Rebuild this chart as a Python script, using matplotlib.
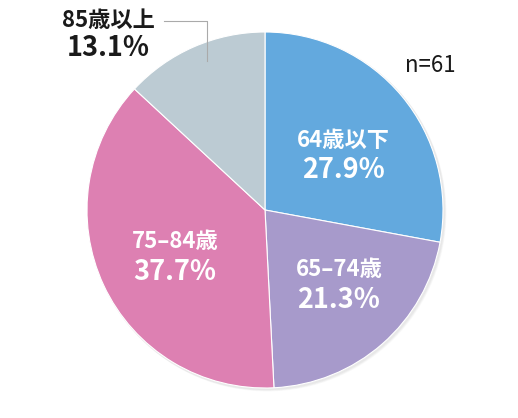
import matplotlib
matplotlib.use("Agg")
import matplotlib.pyplot as plt
from matplotlib.patches import Circle

plt.rcParams['font.family'] = ['Noto Sans CJK JP', 'DejaVu Sans']

# データ
labels = ["64歳以下", "65‒74歳", "75‒84歳", "85歳以上"]
values = [27.9, 21.3, 37.7, 13.1]
colors = ["#63a9de", "#a79acb", "#dd80b2", "#bccbd3"]
n_text = "n=61"

W, H = 518, 418
fig = plt.figure(figsize=(W / 100, H / 100), dpi=100)
ax = fig.add_axes([0, 0, 1, 1])

def py(y):
    # ピクセル座標(上から) -> データ座標
    return H - y

cx, cy, r = 265, py(210), 178

# うっすら影
for k, a in [(4, 0.05), (3, 0.06), (2, 0.08)]:
    ax.add_patch(Circle((cx + k * 0.6, cy - k * 0.6), r + 1, color="#888888",
                        alpha=a, lw=0, zorder=0))

ax.pie(values, colors=colors, startangle=90, counterclock=False,
       center=(cx, cy), radius=r, frame=True,
       wedgeprops=dict(edgecolor="white", linewidth=0.8))
ax.set_xlim(0, W)
ax.set_ylim(0, H)
ax.set_aspect("equal")
ax.axis("off")

# ラベル位置 (ピクセル)
pos = [(343, 140), (339, 270), (175, 242)]
for (x, y), lab, v in zip(pos, labels[:3], values[:3]):
    ax.text(x, py(y), lab, color="white", fontsize=16, fontweight="bold",
            ha="center", va="center")
    ax.text(x, py(y + 30), f"{v:.1f}%", color="white", fontsize=19.5,
            fontweight="bold", ha="center", va="center")

# 85歳以上 (外側ラベル)
ax.text(108, py(20), labels[3], color="#1a1a1a", fontsize=16, fontweight="bold",
        ha="center", va="center")
ax.text(108, py(48), f"{values[3]:.1f}%", color="#1a1a1a", fontsize=19.5,
        fontweight="bold", ha="center", va="center")
ax.plot([164, 207, 207], [py(21), py(21), py(61)], color="#aaaaaa", lw=0.8)

ax.text(430, py(65), n_text, color="#1a1a1a", fontsize=16, ha="center", va="center")

fig.savefig("out.png", dpi=100)
